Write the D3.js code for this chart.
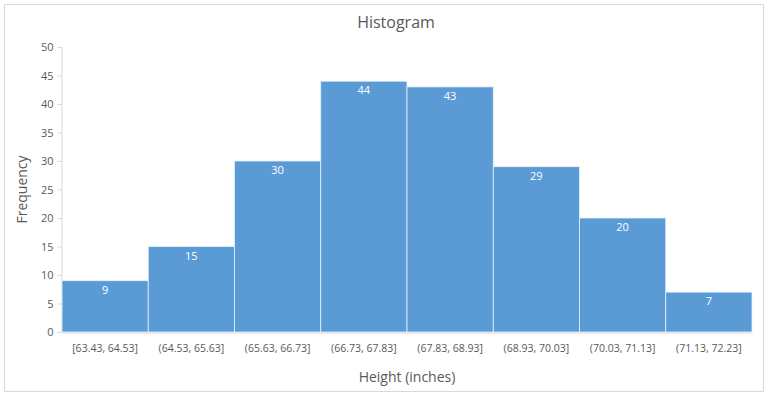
<!DOCTYPE html>
<html>
<head>
<meta charset="utf-8">
<script src="https://cdn.jsdelivr.net/npm/d3@7"></script>
<style>
  body { margin: 0; background: #fff; }
  text { font-family: "Open Sans", "Liberation Sans", sans-serif; fill: #595959; }
</style>
</head>
<body>
<div class="chart"></div>
<script>
const bins = ["[63.43, 64.53]", "(64.53, 65.63]", "(65.63, 66.73]", "(66.73, 67.83]",
              "(67.83, 68.93]", "(68.93, 70.03]", "(70.03, 71.13]", "(71.13, 72.23]"];
const counts = [9, 15, 30, 44, 43, 29, 20, 7];
const yTicks = [0, 5, 10, 15, 20, 25, 30, 35, 40, 45, 50];

const width = 768;
const height = 396;
const margin = {top: 47, right: 16, bottom: 64, left: 62};

const svg = d3.select(".chart")
              .append("svg")
              .attr("width", width)
              .attr("height", height);

// outer frame
svg.append("rect")
  .attr("x", 4.5).attr("y", 4.5)
  .attr("width", width - 9).attr("height", height - 9)
  .attr("fill", "#fff")
  .attr("stroke", "#d9d9d9");

const x = d3.scaleBand()
  .domain(bins)
  .range([margin.left, width - margin.right])
  .padding(0);

const y = d3.scaleLinear()
  .domain([0, 50])
  .range([height - margin.bottom, margin.top]);

// y axis
const yAxis = svg.append("g")
  .attr("transform", `translate(${margin.left - 0.5},0)`)
  .call(d3.axisLeft(y).tickValues(yTicks).tickSize(4).tickPadding(4));
yAxis.selectAll("line").attr("stroke", "#d9d9d9");
yAxis.select(".domain").attr("stroke", "#d9d9d9");
yAxis.selectAll("text").style("font-size", "11px").attr("fill", "#595959");

// bars
svg.selectAll("rect.bar")
  .data(counts)
  .enter()
  .append("rect")
  .attr("class", "bar")
  .attr("x", (d, i) => x(bins[i]))
  .attr("y", d => y(d))
  .attr("width", x.bandwidth())
  .attr("height", d => y(0) - y(d))
  .attr("fill", "#5b9bd5")
  .attr("stroke", "#e8f0f9")
  .attr("stroke-width", 0.8);

// bar labels
svg.selectAll("text.val")
  .data(counts)
  .enter()
  .append("text")
  .attr("class", "val")
  .attr("x", (d, i) => x(bins[i]) + x.bandwidth() / 2)
  .attr("y", d => y(d) + 13)
  .attr("text-anchor", "middle")
  .style("font-size", "11px")
  .style("fill", "#ffffff")
  .text(d => d);

// x axis
const xAxis = svg.append("g")
  .attr("transform", `translate(0,${y(0) + 0.5})`)
  .call(d3.axisBottom(x).tickSize(0).tickPadding(12));
xAxis.select(".domain").attr("stroke", "#d9d9d9");
xAxis.selectAll("text").style("font-size", "10.5px").attr("fill", "#595959");

// title
svg.append("text")
  .attr("x", width / 2 + 12)
  .attr("y", 28)
  .attr("text-anchor", "middle")
  .style("font-size", "16px")
  .text("Histogram");

svg.append("text")
  .attr("x", (margin.left + width - margin.right) / 2)
  .attr("y", 382)
  .attr("text-anchor", "middle")
  .style("font-size", "14px")
  .text("Height (inches)");

svg.append("text")
  .attr("transform", `translate(27,${(margin.top + height - margin.bottom) / 2}) rotate(-90)`)
  .attr("text-anchor", "middle")
  .style("font-size", "14px")
  .text("Frequency");
</script>
</body>
</html>
